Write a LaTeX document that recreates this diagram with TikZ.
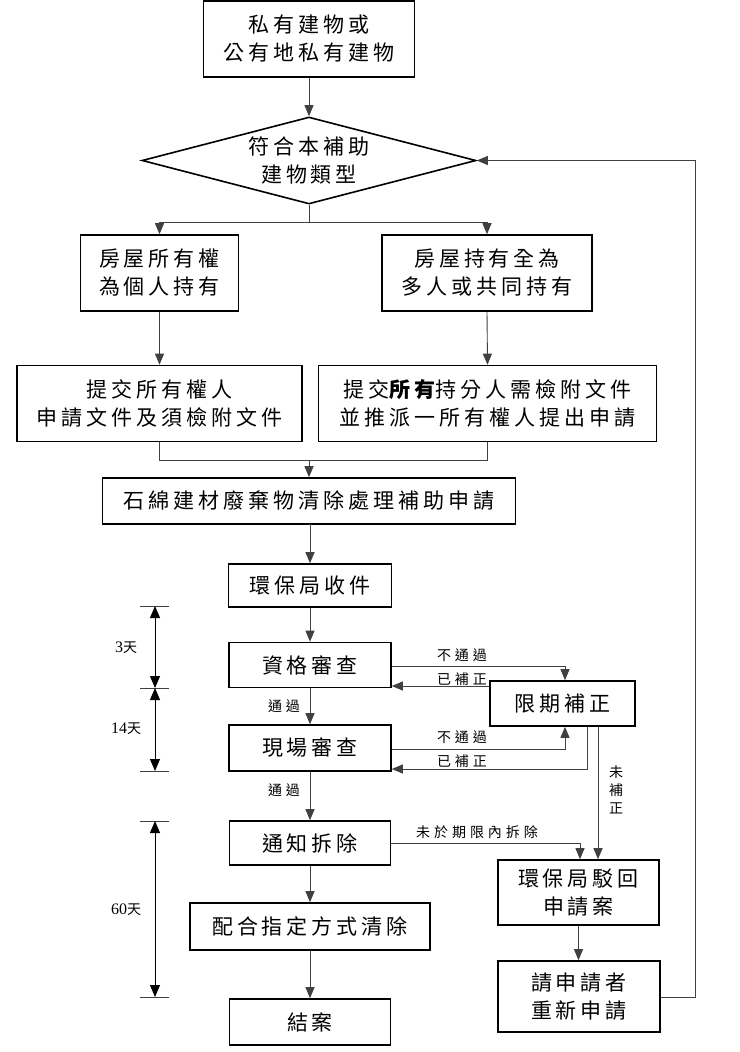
\documentclass[tikz,border=0pt]{standalone}
\usepackage{fontspec}
\setmainfont{Liberation Serif}
\newfontfamily\cjk[LetterSpace=19]{Noto Sans CJK TC}
\newfontfamily\cjks[LetterSpace=28]{Noto Sans CJK TC}
\newfontfamily\cjkd{Noto Sans CJK TC}
\usetikzlibrary{arrows.meta,shapes.geometric}
\tikzset{
  box/.style={draw=black, line width=1.6pt, rectangle, inner sep=0pt, align=center,
    font=\cjk\fontsize{21}{28}\selectfont},
  conn/.style={draw=black!75, line width=0.9pt},
  arr/.style={conn, -{Triangle[length=11pt,width=9pt]}},
  lbl/.style={font=\cjks\fontsize{14}{18}\selectfont, inner sep=0pt, align=center},
  dimarrow/.style={draw=black, line width=0.9pt,
    {Triangle[length=12pt,width=10pt]}-{Triangle[length=12pt,width=10pt]}},
  tickline/.style={draw=black!75, line width=0.9pt},
  daylbl/.style={font=\fontsize{16}{18}\selectfont, inner sep=0pt}
}
\begin{document}
\begin{tikzpicture}[x=1pt,y=-1pt]
\useasboundingbox (0,0) rectangle (739,1052);

% main boxes
\node[box, minimum width=211pt, minimum height=76pt] (b1) at (309,39) {私有建物或\\公有地私有建物};
\node[draw=black, line width=1.6pt, diamond, aspect=3.84, minimum width=334pt, minimum height=87pt,
      inner sep=0pt, align=center, font=\cjk\fontsize{21}{28}\selectfont] (dia) at (309,160.5) {符合本補助\\建物類型};
\node[box, minimum width=158pt, minimum height=76pt] (L1) at (159.5,273) {房屋所有權\\為個人持有};
\node[box, minimum width=210pt, minimum height=76pt] (R1) at (487,273) {房屋持有全為\\多人或共同持有};
\node[box, minimum width=285pt, minimum height=76pt] (L2) at (159.5,403.5) {提交所有權人\\申請文件及須檢附文件};
\node[box, minimum width=338pt, minimum height=76pt] (R2) at (487.5,403.5) {提交{\bfseries 所有}持分人需檢附文件\\並推派一所有權人提出申請};
\node[box, minimum width=413pt, minimum height=46pt] (apply) at (309,501) {石綿建材廢棄物清除處理補助申請};
\node[box, minimum width=163pt, minimum height=43pt] (recv) at (310,585.5) {環保局收件};
\node[box, minimum width=162pt, minimum height=45pt] (qual) at (310,665) {資格審查};
\node[box, minimum width=162pt, minimum height=46pt] (site) at (310,748) {現場審查};
\node[box, minimum width=161pt, minimum height=44pt] (notice) at (310,843) {通知拆除};
\node[box, minimum width=240pt, minimum height=47pt] (clear) at (310,926.5) {配合指定方式清除};
\node[box, minimum width=161pt, minimum height=46pt] (close) at (310,1022) {結案};
\node[box, minimum width=145pt, minimum height=45pt] (fix) at (562.5,703.5) {限期補正};
\node[box, minimum width=161pt, minimum height=65pt] (reject) at (578.5,892.5) {環保局駁回\\申請案};
\node[box, minimum width=162pt, minimum height=71pt] (reapply) at (579,996.5) {請申請者\\重新申請};

% top connectors
\draw[arr] (b1.south) -- (dia.north);
\coordinate (split) at (309,222);
\draw[conn] (dia.south) -- (split);
\draw[conn] (L1.north |- split) -- (R1.north |- split);
\draw[arr] (L1.north |- split) -- (L1.north);
\draw[arr] (R1.north |- split) -- (R1.north);
\draw[arr] (L1.south) -- (L2.north);
\draw[arr] (R1.south) -- (R2.north);
\coordinate (merge) at (310,460.5);
\draw[conn] (L2.south) -- (L2.south |- merge) -- (R2.south |- merge) -- (R2.south);
\draw[arr] (apply.north |- merge) -- (apply.north);

% main column
\draw[arr] (apply.south) -- (recv.north |- apply.south) -- (recv.north);
\draw[arr] (recv.south) -- (qual.north);
\draw[arr] (qual.south) -- (site.north);
\draw[arr] (site.south) -- (notice.north);
\draw[arr] (notice.south) -- (clear.north);
\draw[arr] (clear.south) -- (close.north);

% correction loop
\coordinate (nq) at (565,666.5);
\draw[arr] (qual.east |- nq) -- (nq) -- (nq |- fix.north);
\coordinate (fq) at (0,686);
\draw[arr] (fix.west |- fq) -- (qual.east |- fq);
\coordinate (ns) at (565,749);
\draw[arr] (site.east |- ns) -- (ns) -- (ns |- fix.south);
\coordinate (fs) at (587,769);
\draw[arr] (fs |- fix.south) -- (fs) -- (site.east |- fs);
\coordinate (nf) at (598,0);
\draw[arr] (nf |- fix.south) -- (nf |- reject.north);
\coordinate (nr) at (580,843);
\draw[arr] (notice.east |- nr) -- (nr) -- (nr |- reject.north);
\draw[arr] (reject.south) -- (reject.south |- reapply.north);
\coordinate (back) at (695,997);
\draw[arr] (reapply.east |- back) -- (back) -- (back |- dia.east) -- (dia.east);

% labels
\node[lbl] (l1) at (284,706.5) {通過};
\node[lbl] (l2) at (284,790) {通過};
\node[lbl] (l3) at (462,655) {不通過};
\node[lbl] (l4) at (462,679) {已補正};
\node[lbl] (l5) at (462,737) {不通過};
\node[lbl] (l6) at (462,761) {已補正};
\node[lbl] (l7) at (616,790) {未\\補\\正};
\node[lbl] (l8) at (477,832) {未於期限內拆除};

% timeline
\coordinate (t1) at (155,606);
\coordinate (t2) at (155,688);
\coordinate (t3) at (155,771);
\coordinate (t4) at (155,821);
\coordinate (t5) at (155,997);
\foreach \t in {t1,t2,t3,t4,t5}{
  \draw[tickline] ([xshift=-15pt]\t) -- ([xshift=14pt]\t);
}
\draw[dimarrow] (t1) -- (t2);
\draw[dimarrow] (t2) -- (t3);
\draw[dimarrow] (t4) -- (t5);
\node[daylbl] (d1) at (126,648) {3{\cjkd\fontsize{14}{16}\selectfont 天}};
\node[daylbl] (d2) at (126,729) {14{\cjkd\fontsize{14}{16}\selectfont 天}};
\node[daylbl] (d3) at (126,910) {60{\cjkd\fontsize{14}{16}\selectfont 天}};
\end{tikzpicture}
\end{document}
